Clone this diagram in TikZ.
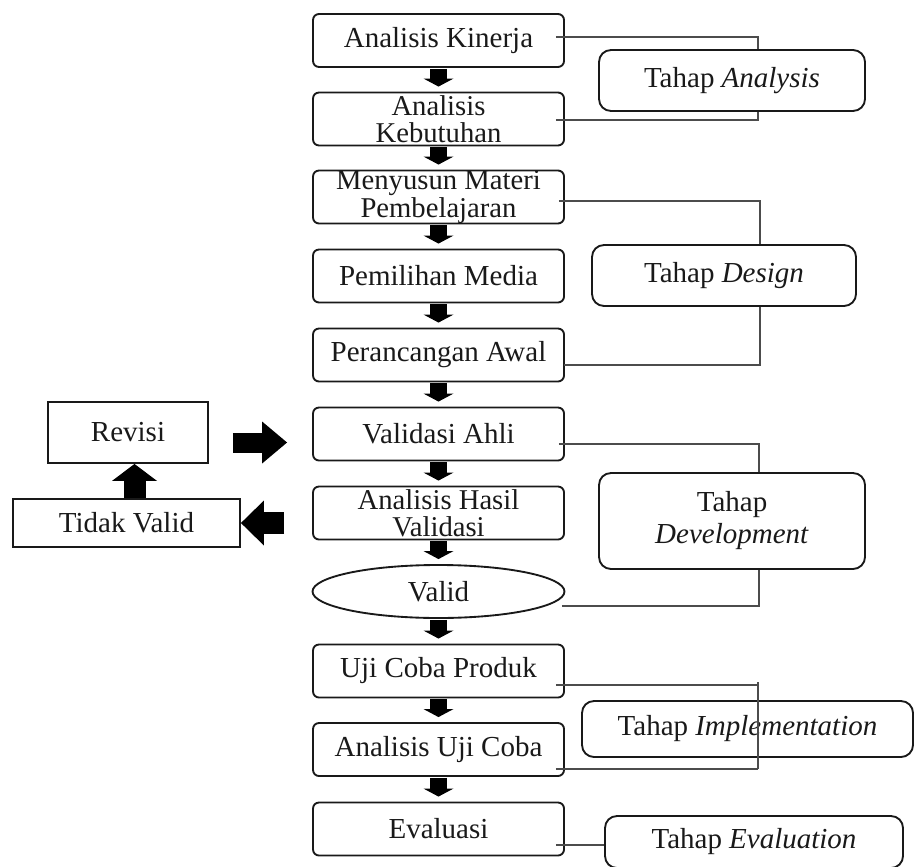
\documentclass[tikz,border=0pt]{standalone}
\usepackage{fontspec}
\setmainfont{Liberation Serif}
\usetikzlibrary{arrows.meta,shapes.geometric}
\begin{document}
\begin{tikzpicture}[x=0.75pt,y=-0.75pt,
  every node/.style={font=\fontsize{21.75}{19.5}\selectfont,text=black!90},
  mbox/.style={draw=black!90,line width=1.4pt,rounded corners=4.5pt,minimum width=188.25pt,minimum height=39.75pt,inner sep=0pt,align=center},
  twoline/.style={font=\fontsize{21.5}{20.5}\selectfont},
  stagebox/.style={draw=black!90,line width=1.4pt,rounded corners=9pt,inner sep=0pt,align=center},
  sqbox/.style={draw=black!90,line width=1.4pt,inner sep=0pt,align=center},
  ovalbox/.style={ellipse,draw=black!90,line width=1.4pt,minimum width=189pt,minimum height=39.75pt,inner sep=0pt},
  brk/.style={draw=black!70,line width=0.9pt},
  darr/.style={line width=12.75pt,-{Triangle[width=22.5pt,length=6pt,line width=0pt]}},
  rarr/.style={line width=15pt,-{Triangle[width=31.5pt,length=18.75pt,line width=0pt]}},
  larr/.style={line width=17pt,-{Triangle[width=33.75pt,length=17.25pt,line width=0pt]}},
  uarr/.style={line width=16.5pt,-{Triangle[width=33.75pt,length=12.75pt,line width=0pt]}}
]
\useasboundingbox (0,0) rectangle (914,867);

% main column
\node[mbox] (n1) at (438.5,40.5) {Analisis Kinerja};
\node[mbox,twoline] (n2) at (438.5,119) {Analisis\\Kebutuhan};
\node[mbox,twoline] (n3) at (438.5,197) {Menyusun Materi\\Pembelajaran};
\node[mbox] (n4) at (438.5,276) {Pemilihan Media};
\node[mbox] (n5) at (438.5,355) {Perancangan Awal};
\node[mbox] (n6) at (438.5,434) {Validasi Ahli};
\node[mbox,twoline] (n7) at (438.5,513) {Analisis Hasil\\Validasi};
\node[ovalbox] (n8) at (438.5,591.5) {Valid};
\node[mbox] (n9) at (438.5,671) {Uji Coba Produk};
\node[mbox] (n10) at (438.5,749.5) {Analisis Uji Coba};
\node[mbox] (n11) at (438.5,829) {Evaluasi};

% left side
\node[sqbox,minimum width=120pt,minimum height=45.75pt] (rev) at (128,432.5) {Revisi};
\node[sqbox,minimum width=170.25pt,minimum height=36pt] (tv) at (126.5,523) {Tidak Valid};

% stage boxes
\node[stagebox,minimum width=199.5pt,minimum height=45.75pt] (sA) at (732,80.5) {Tahap \textit{Analysis}};
\node[stagebox,minimum width=198pt,minimum height=45.75pt] (sD) at (724,275.5) {Tahap \textit{Design}};
\node[stagebox,minimum width=199.5pt,minimum height=72pt,font=\fontsize{21.75}{24}\selectfont] (sDev) at (732,521) {Tahap\\\textit{Development}};
\node[stagebox,minimum width=248.25pt,minimum height=42pt] (sI) at (747.5,729) {Tahap \textit{Implementation}};
\node[stagebox,minimum width=223.5pt,minimum height=39pt] (sE) at (754,842) {Tahap \textit{Evaluation}};

% down arrows
\foreach \a/\b in {n1/n2,n2/n3,n3/n4,n4/n5,n5/n6,n6/n7,n7/n8,n8/n9,n9/n10,n10/n11}
  \draw[darr] ([yshift=-0.75pt]\a.south) -- ([yshift=3.75pt]\b.north);

% left arrows
\coordinate (ra) at ([xshift=18pt,yshift=-7.5pt]rev.east);
\draw[rarr,shorten >=18.75pt] (ra) -- (ra -| n6.west);
\coordinate (la) at ([xshift=-21pt]n7.west);
\draw[larr] (la |- tv.east) -- (tv.east);
\coordinate (ua) at ([xshift=6pt]tv.north);
\draw[uarr] (ua) -- (ua |- rev.south);

% brackets: Analysis
\draw[brk] ([xshift=-6.75pt,yshift=2.6pt]n1.east) -| ([xshift=19.5pt]sA.north);
\draw[brk] ([xshift=-6.75pt,yshift=-0.75pt]n2.east) -| ([xshift=19.5pt]sA.south);
% Design
\draw[brk] ([xshift=-4.5pt,yshift=-3pt]n3.east) -| ([xshift=27pt]sD.north);
\draw[brk] ([xshift=-0.75pt,yshift=-7.5pt]n5.east) -| ([xshift=27pt]sD.south);
% Development
\draw[brk] ([xshift=-4.5pt,yshift=-7.5pt]n6.east) -| ([xshift=20.25pt]sDev.north);
\draw[brk] ([xshift=-2.6pt,yshift=-10.9pt]n8.east) -| ([xshift=20.25pt]sDev.south);
% Implementation
\coordinate (i1) at ([xshift=-6.75pt,yshift=-10.5pt]n9.east);
\coordinate (i2) at ([xshift=-6.75pt,yshift=-14.6pt]n10.east);
\coordinate (iv) at ([xshift=7.9pt]sI.north);
\draw[brk] (i1) -- (i1 -| iv);
\draw[brk] (i2) -- (i2 -| iv);
\path (i1 -| iv) coordinate (ia);
\draw[brk] ([yshift=2.25pt]ia) -- (i2 -| iv);
% Evaluation
\coordinate (e1) at ([xshift=-6.75pt,yshift=-12pt]n11.east);
\draw[brk] (e1) -- (e1 -| sE.west);
\end{tikzpicture}
\end{document}
